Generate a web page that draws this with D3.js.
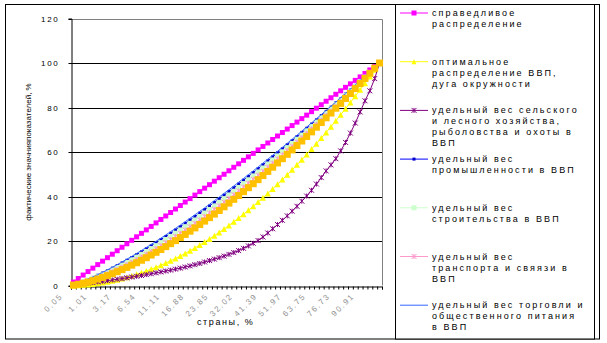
<!DOCTYPE html>
<html>
<head>
<meta charset="utf-8">
<script src="https://cdn.jsdelivr.net/npm/d3@7"></script>
<style>
  html, body { margin: 0; padding: 0; background: #fff; }
  svg { display: block; font-family: "Liberation Sans", Arial, sans-serif; }
</style>
</head>
<body>
<svg id="chart" width="607" height="343"></svg>
<script>
// Cumulative share of countries (category axis), %
const categories = ["0.05","0.14","0.29","0.48","0.71","1.01","1.33","1.72","2.15","2.63",
  "3.17","3.73","4.35","5.02","5.74","6.54","7.36","8.22","9.13","10.09",
  "11.11","12.17","13.27","14.43","15.63","16.88","18.18","19.53","20.93","22.37",
  "23.85","25.40","26.99","28.62","30.31","32.02","33.80","35.63","37.51","39.43",
  "41.39","43.41","45.48","47.60","49.76","51.97","54.23","56.54","58.90","61.30",
  "63.75","66.25","68.80","71.40","74.05","76.73","79.48","82.27","85.11","87.99",
  "90.91","93.89","96.92","100.00"];

// Labels printed under the category axis
const tickLabels = ["0.05","1.01","3.17","6.54","11.11","16.88","23.85","32.02",
  "41.39","51.97","63.75","76.73","90.91"];

const yTicks = [0, 20, 40, 60, 80, 100, 120];

// Equal distribution
const fair = [1.56,3.13,4.69,6.25,7.81,9.38,10.94,12.50,14.06,15.63,17.19,18.75,20.31,21.88,
  23.44,25.00,26.56,28.13,29.69,31.25,32.81,34.38,35.94,37.50,39.06,40.63,42.19,43.75,45.31,
  46.88,48.44,50.00,51.56,53.13,54.69,56.25,57.81,59.38,60.94,62.50,64.06,65.63,67.19,68.75,
  70.31,71.88,73.44,75.00,76.56,78.13,79.69,81.25,82.81,84.38,85.94,87.50,89.06,90.63,92.19,
  93.75,95.31,96.88,98.44,100.00];

// Optimal distribution of GDP (circle arc)
const optimal = [0.05,0.14,0.29,0.48,0.71,1.01,1.33,1.72,2.15,2.63,
  3.17,3.73,4.35,5.02,5.74,6.54,7.36,8.22,9.13,10.09,
  11.11,12.17,13.27,14.43,15.63,16.88,18.18,19.53,20.93,22.37,
  23.85,25.40,26.99,28.62,30.31,32.02,33.80,35.63,37.51,39.43,
  41.39,43.41,45.48,47.60,49.76,51.97,54.23,56.54,58.90,61.30,
  63.75,66.25,68.80,71.40,74.05,76.73,79.48,82.27,85.11,87.99,
  90.91,93.89,96.92,100.00];

// Agriculture, forestry, fishing and hunting
const agriculture = [0.2,0.5,0.8,1.05,1.3,1.6,1.9,2.2,2.5,2.8,
  3.1,3.45,3.8,4.15,4.5,4.9,5.3,5.7,6.1,6.5,
  6.9,7.35,7.8,8.3,8.8,9.35,9.9,10.55,11.2,11.85,
  12.5,13.2,14.0,14.8,15.7,16.7,17.8,19.0,20.2,21.8,
  23.6,25.5,27.4,29.3,31.3,33.4,35.6,37.9,40.2,42.8,
  45.6,48.5,51.5,54.2,57.0,60.5,64.3,68.5,73.0,78.0,
  83.0,87.5,93.0,100.0];

// Industry
const industry = [0.45,1.10,1.87,2.72,3.64,4.61,5.63,6.70,7.81,8.95,
  10.13,11.35,12.59,13.87,15.17,16.49,17.85,19.22,20.62,22.04,
  23.49,24.95,26.44,27.94,29.46,31.01,32.56,34.14,35.73,37.35,
  38.97,40.61,42.27,43.94,45.63,47.33,49.05,50.78,52.52,54.28,
  56.05,57.84,59.63,61.44,63.26,65.10,66.94,68.80,70.67,72.55,
  74.44,76.34,78.26,80.18,82.12,84.06,86.03,87.99,89.97,91.95,
  93.95,95.96,97.97,100.00];

// Construction
const construction = [0.37,0.93,1.61,2.37,3.20,4.09,5.03,6.02,7.05,8.12,
  9.23,10.38,11.56,12.78,14.02,15.29,16.60,17.93,19.29,20.67,
  22.08,23.51,24.97,26.45,27.94,29.47,31.01,32.58,34.16,35.77,
  37.39,39.03,40.70,42.37,44.07,45.79,47.52,49.27,51.03,52.82,
  54.62,56.44,58.26,60.11,61.97,63.85,65.74,67.64,69.57,71.50,
  73.45,75.41,77.39,79.38,81.38,83.40,85.44,87.47,89.53,91.60,
  93.68,95.78,97.88,100.00];

// Transport and communications
const transport = [0.30,0.77,1.35,2.02,2.76,3.57,4.42,5.33,6.29,7.29,
  8.33,9.41,10.53,11.69,12.88,14.10,15.35,16.64,17.96,19.30,
  20.68,22.07,23.50,24.95,26.43,27.94,29.46,31.02,32.59,34.19,
  35.81,37.46,39.13,40.81,42.52,44.25,46.00,47.76,49.55,51.36,
  53.19,55.03,56.89,58.78,60.68,62.60,64.53,66.49,68.46,70.45,
  72.46,74.48,76.52,78.57,80.65,82.73,84.84,86.96,89.09,91.24,
  93.41,95.59,97.79,100.00];

// Trade and catering
const trade = [0.49,1.18,2.00,2.89,3.86,4.87,5.93,7.04,8.19,9.37,
  10.58,11.83,13.11,14.42,15.74,17.09,18.47,19.87,21.29,22.73,
  24.19,25.67,27.18,28.69,30.22,31.78,33.33,34.92,36.51,38.14,
  39.76,41.40,43.06,44.72,46.41,48.10,49.81,51.53,53.26,55.01,
  56.77,58.54,60.31,62.11,63.91,65.73,67.54,69.38,71.22,73.08,
  74.94,76.81,78.70,80.58,82.49,84.39,86.33,88.25,90.19,92.13,
  94.09,96.05,98.02,100.00];

// Other sectors
const other = [0.20,0.55,1.01,1.56,2.18,2.87,3.62,4.42,5.27,6.18,
  7.13,8.12,9.15,10.23,11.35,12.50,13.69,14.92,16.18,17.47,
  18.80,20.15,21.54,22.96,24.41,25.89,27.40,28.94,30.50,32.09,
  33.71,35.36,37.03,38.72,40.44,42.19,43.96,45.75,47.57,49.41,
  51.28,53.16,55.07,57.00,58.96,60.93,62.93,64.95,66.99,69.05,
  71.14,73.24,75.36,77.50,79.67,81.85,84.05,86.27,88.51,90.77,
  93.05,95.35,97.67,100.00];

const series = [
  { name: ["справедливое", "распределение"], values: fair,
    line: "#FF00FF", fill: "#FF00FF", marker: "square", size: 5 },
  { name: ["оптимальное", "распределение ВВП,", "дуга окружности"], values: optimal,
    line: "#FFFF00", fill: "#FFFF00", marker: "triangle", size: 6 },
  { name: ["удельный вес сельского", "и лесного хозяйства,", "рыболовства и охоты в", "ВВП"], values: agriculture,
    line: "#800080", fill: "#800080", marker: "star", size: 5 },
  { name: ["удельный вес", "промышленности в ВВП"], values: industry,
    line: "#0000FF", fill: "#0000CC", marker: "square", size: 3 },
  { name: ["удельный вес", "строительства в ВВП"], values: construction,
    line: "#CCFFCC", fill: "#CCFFCC", marker: "square", size: 5 },
  { name: ["удельный вес", "транспорта и свяязи в", "ВВП"], values: transport,
    line: "#FF99CC", fill: "#FF99CC", marker: "star", size: 5 },
  { name: ["удельный вес торговли и", "общественного питания", "в ВВП"], values: trade,
    line: "#3366FF", fill: "#3366FF", marker: "none", size: 0 },
  { name: null, values: other,
    line: "#FFC000", fill: "#FFC000", marker: "square", size: 7 }
];

const svg = d3.select("#chart");
const plot = { left: 71, right: 382, top: 18.5, bottom: 285.5 };

const x = d3.scalePoint()
  .domain(d3.range(categories.length))
  .range([plot.left, plot.right])
  .padding(0.5);
const xEdge = d3.scaleLinear().domain([0, categories.length]).range([plot.left, plot.right]);
const y = d3.scaleLinear().domain([0, 120]).range([plot.bottom, plot.top]);

// outer frame and legend box
svg.append("rect").attr("x", 5.5).attr("y", 4.5).attr("width", 594).attr("height", 334.5)
  .attr("fill", "#fff").attr("stroke", "#000");
svg.append("rect").attr("x", 395.5).attr("y", 4.5).attr("width", 199).attr("height", 334.5)
  .attr("fill", "#fff").attr("stroke", "#000");

// horizontal gridlines
svg.append("g").selectAll("line")
  .data(yTicks.filter(v => v > 0 && v < 120))
  .join("line")
  .attr("x1", plot.left).attr("x2", plot.right)
  .attr("y1", d => Math.round(y(d)) + 0.5).attr("y2", d => Math.round(y(d)) + 0.5)
  .attr("stroke", "#000");

// plot area border (top and right)
svg.append("path")
  .attr("d", `M${plot.left},${Math.round(y(120)) + 0.5}H${plot.right + 0.5}V${plot.bottom}`)
  .attr("fill", "none").attr("stroke", "#808080");

// value axis
const yAxis = d3.axisLeft(y).tickValues(yTicks).tickSize(3).tickPadding(9)
  .tickFormat(d3.format("d"));
const gy = svg.append("g").attr("transform", `translate(${plot.left + 0.5},0)`).call(yAxis);
gy.select(".domain").attr("stroke", "#000");
gy.selectAll(".tick line").attr("stroke", "#000");
gy.selectAll(".tick").attr("transform", d => `translate(0,${Math.round(y(d)) + 0.5})`);
gy.selectAll(".tick text")
  .attr("font-size", 8).attr("letter-spacing", 1.7).attr("fill", "#000")
  .attr("font-family", "Liberation Sans, Arial, sans-serif");

// category axis: tick marks on category boundaries
const xAxisTicks = d3.axisBottom(xEdge).tickValues(d3.range(categories.length + 1))
  .tickSize(3).tickFormat("");
const gx = svg.append("g").attr("transform", `translate(0,${Math.round(plot.bottom) + 0.5})`).call(xAxisTicks);
gx.select(".domain").attr("stroke", "#000");
gx.selectAll(".tick line").attr("stroke", "#000");

// category labels, every fifth category
svg.append("g").selectAll("text")
  .data(tickLabels)
  .join("text")
  .attr("transform", d => `translate(${x(categories.indexOf(d)) - 10},${plot.bottom + 11}) rotate(-45)`)
  .attr("text-anchor", "end")
  .attr("font-size", 8).attr("letter-spacing", 1.8)
  .attr("fill", "#909090")
  .text(d => d);

// axis titles
svg.append("text")
  .attr("x", 197).attr("y", 325)
  .attr("font-size", 9).attr("letter-spacing", 1.6)
  .text("страны, %");
svg.append("text")
  .attr("transform", `translate(31,152) rotate(-90)`)
  .attr("text-anchor", "middle")
  .attr("font-size", 8)
  .text("фактические значнияпоказателей, %");

function drawMarker(g, type, size, color) {
  const h = size / 2;
  if (type === "square") {
    g.append("rect").attr("x", -h).attr("y", -h).attr("width", size).attr("height", size)
      .attr("fill", color);
  } else if (type === "triangle") {
    g.append("path").attr("d", `M0,${-h}L${h},${h}L${-h},${h}Z`).attr("fill", color);
  } else if (type === "star") {
    g.append("path")
      .attr("d", `M0,${-h}V${h}M${-h},${-h}L${h},${h}M${-h},${h}L${h},${-h}`)
      .attr("stroke", color).attr("stroke-width", 1).attr("fill", "none");
  }
}

// series
const line = d3.line().x((d, i) => x(i)).y(d => y(d));
series.forEach(s => {
  const g = svg.append("g");
  g.append("path").attr("d", line(s.values))
    .attr("fill", "none").attr("stroke", s.line).attr("stroke-width", 1);
  if (s.marker !== "none") {
    g.selectAll("g.m").data(s.values).join("g").attr("class", "m")
      .attr("transform", (d, i) => `translate(${x(i)},${y(d)})`)
      .each(function () { drawMarker(d3.select(this), s.marker, s.size, s.fill); });
  }
});

// legend
const legend = svg.append("g");
series.filter(s => s.name).forEach((s, i) => {
  const top = 12.5 + i * 48.7;
  const item = legend.append("g").attr("transform", `translate(0,${top})`);
  item.append("line").attr("x1", 400).attr("x2", 428).attr("y1", 0.5).attr("y2", 0.5)
    .attr("stroke", s.line);
  const m = item.append("g").attr("transform", "translate(414,0.5)");
  drawMarker(m, s.marker, Math.min(s.size, 5), s.fill);
  s.name.forEach((t, j) => {
    item.append("text").attr("x", 432).attr("y", j * 11 + 3.5)
      .attr("font-size", 9).attr("letter-spacing", 2.1)
      .text(t);
  });
});
</script>
</body>
</html>
